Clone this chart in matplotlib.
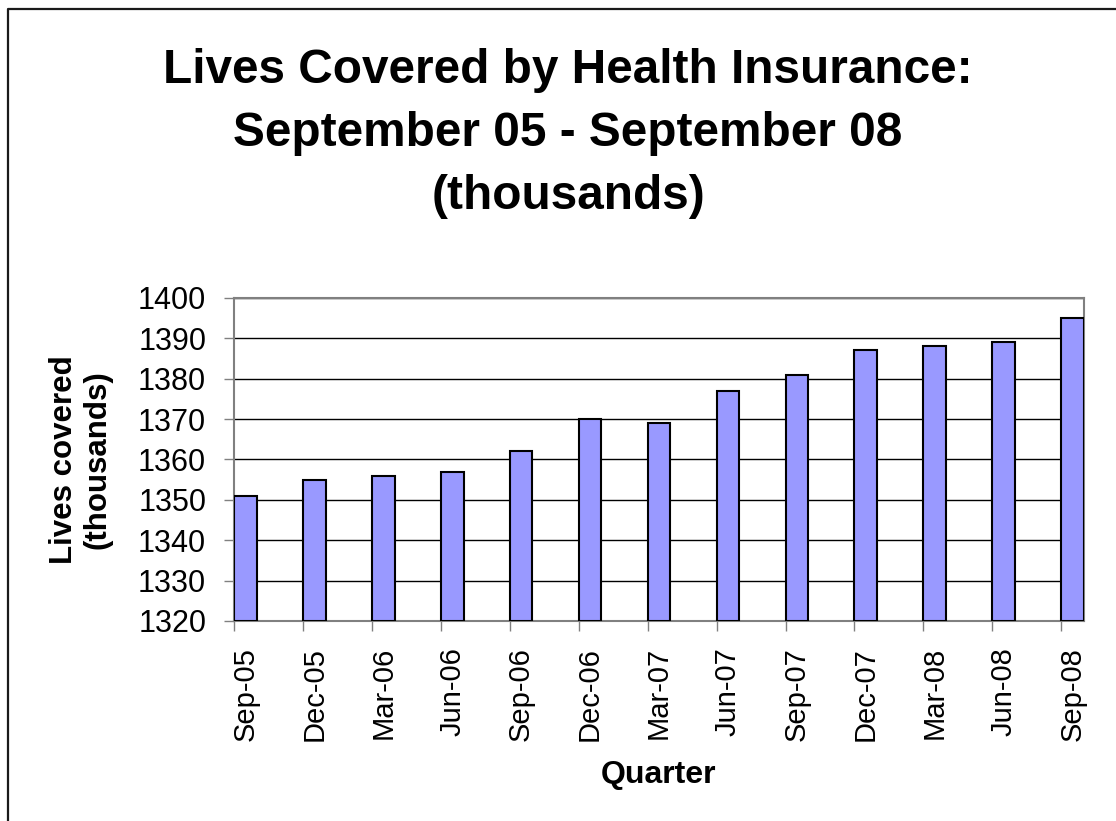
import numpy as np
import matplotlib.pyplot as plt
from matplotlib.lines import Line2D

plt.rcParams['font.family'] = ['Liberation Sans', 'DejaVu Sans']

# data
quarters = ['Sep-05', 'Dec-05', 'Mar-06', 'Jun-06', 'Sep-06', 'Dec-06', 'Mar-07',
            'Jun-07', 'Sep-07', 'Dec-07', 'Mar-08', 'Jun-08', 'Sep-08']
lives = [1351, 1355, 1356, 1357, 1362, 1370, 1369, 1377, 1381, 1387, 1388, 1389, 1395]
y_ticks = [1320, 1330, 1340, 1350, 1360, 1370, 1380, 1390, 1400]

W, H = 1116, 821
fig = plt.figure(figsize=(W / 100, H / 100), dpi=100)
ax = fig.add_axes([234 / W, 1 - 621 / H, (1084 - 234) / W, (621 - 298) / H])

x = np.arange(len(quarters))
bw = 0.33
ax.bar(x, np.array(lives) - 1320, bottom=1320, width=bw, align='edge',
       color='#9999FF', edgecolor='black', linewidth=1.5, zorder=3)

ax.set_xlim(0, x[-1] + bw)
ax.set_ylim(1320, 1400)
ax.set_yticks(y_ticks)
ax.yaxis.grid(True, color='black', linewidth=1.0, zorder=0)
ax.set_axisbelow(True)

# ticks at the category dates, labels centred on the bars
ax.set_xticks(x)
ax.set_xticklabels([])
ax.set_xticks(x + bw / 2, quarters, minor=True)
ax.tick_params(axis='x', which='minor', length=0, pad=18.5, labelsize=21, rotation=90)
ax.tick_params(axis='x', which='major', length=7.5, width=1, color='#808080', direction='out')
ax.tick_params(axis='y', length=7.5, width=1, color='#808080', direction='out',
               pad=12.5, labelsize=22)

for s in ax.spines.values():
    s.set_color('#808080')
    s.set_linewidth(1.5)

# title
tx = 568 / W
fig.text(tx, 1 - 83 / H, 'Lives Covered by Health Insurance:', ha='center', va='baseline',
         fontsize=34.4, fontweight='bold')
fig.text(tx, 1 - 146 / H, 'September 05 - September 08', ha='center', va='baseline',
         fontsize=34.4, fontweight='bold')
fig.text(tx, 1 - 209 / H, '(thousands)', ha='center', va='baseline',
         fontsize=34.4, fontweight='bold')

# axis titles
fig.text(81 / W, 1 - 460 / H, 'Lives covered\n(thousands)', rotation=90, ha='center',
         va='center', multialignment='center', fontsize=22.5, fontweight='bold',
         linespacing=1.15)
fig.text(659 / W, 1 - 775 / H, 'Quarter', ha='center', va='center',
         fontsize=23, fontweight='bold')

# outer chart frame (left and top edges only visible)
fx = 8 / W
fy = 1 - 9 / H
fig.add_artist(Line2D([fx, fx, 1], [0, fy, fy], transform=fig.transFigure,
                      color='#1a1a1a', linewidth=1.6))

fig.savefig('out.png', dpi=100)
